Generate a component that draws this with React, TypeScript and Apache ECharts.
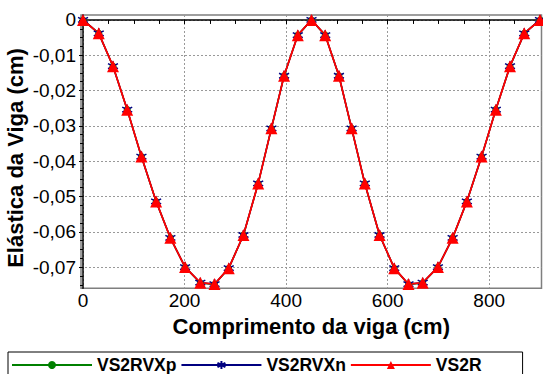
import React, { useEffect, useRef } from "react";
import * as echarts from "echarts";

// Beam position (cm)
const xPositions = [
  0, 31, 59, 87, 115, 144, 172, 201, 231, 259, 287, 316, 345, 371, 396, 423, 450,
  477, 504, 529, 555, 584, 613, 641, 669, 699, 728, 756, 785, 813, 841, 869, 900,
];
// Deflection (cm)
const vs2rvxp = [
  0, -0.0038, -0.0131, -0.0254, -0.0387, -0.0514, -0.0617, -0.07, -0.0745, -0.0749, -0.0703,
  -0.0609, -0.0463, -0.0307, -0.0158, -0.0043, 0, -0.0043, -0.0158, -0.0307, -0.0463, -0.0609,
  -0.0703, -0.0749, -0.0745, -0.07, -0.0617, -0.0514, -0.0387, -0.0254, -0.0131, -0.0038, 0,
];
const vs2rvxn = [
  0, -0.0038, -0.0131, -0.0254, -0.0387, -0.0514, -0.0617, -0.07, -0.0744, -0.0748, -0.0703,
  -0.0609, -0.0463, -0.0307, -0.0158, -0.0043, 0, -0.0043, -0.0158, -0.0307, -0.0463, -0.0609,
  -0.0703, -0.0748, -0.0744, -0.07, -0.0617, -0.0514, -0.0387, -0.0254, -0.0131, -0.0038, 0,
];
const vs2r = [
  0, -0.0038, -0.0131, -0.0254, -0.0387, -0.0514, -0.0617, -0.07, -0.0744, -0.0748, -0.0703,
  -0.0609, -0.0463, -0.0307, -0.0158, -0.0043, 0, -0.0043, -0.0158, -0.0307, -0.0463, -0.0609,
  -0.0703, -0.0748, -0.0744, -0.07, -0.0617, -0.0514, -0.0387, -0.0254, -0.0131, -0.0038, 0,
];
const seriesNames = ["VS2RVXp", "VS2RVXn", "VS2R"];
const xTickLabels = [0, 200, 400, 600, 800];
const xMinorTicks = [0, 50, 100, 150, 200, 250, 300, 350, 400, 450, 500, 550, 600, 650, 700, 750, 800, 850, 900];
const yTickLabels = [0, -0.01, -0.02, -0.03, -0.04, -0.05, -0.06, -0.07];
const yMinorTicks = [
  0, -0.0025, -0.005, -0.0075, -0.01, -0.0125, -0.015, -0.0175, -0.02, -0.0225, -0.025, -0.0275,
  -0.03, -0.0325, -0.035, -0.0375, -0.04, -0.0425, -0.045, -0.0475, -0.05, -0.0525, -0.055,
  -0.0575, -0.06, -0.0625, -0.065, -0.0675, -0.07, -0.0725, -0.075,
];
const xTitle = "Comprimento da viga (cm)";
const yTitle = "Elástica da Viga (cm)";

const FONT = "Liberation Sans, Arial, Helvetica, sans-serif";
const X_MIN = -4;
const X_MAX = 903;
const Y_MIN = -0.076;
const Y_MAX = 0.0014;

const asterisk = "path://M5,0L5,10M0.67,2.5L9.33,7.5M0.67,7.5L9.33,2.5";

export default function App() {
  const ref = useRef<HTMLDivElement>(null);
  useEffect(() => {
    document.body.style.margin = "0";
    if (!ref.current) return;
    const chart = echarts.init(ref.current, null, { renderer: "svg" });
    const pair = (ys: number[]) => xPositions.map((x, i) => [x, ys[i]]);
    const fmtY = (v: number) => (Math.abs(v) < 1e-9 ? "0" : v.toFixed(2).replace(".", ","));
    chart.setOption({
      animation: false,
      backgroundColor: "#ffffff",
      grid: {
        left: 81,
        top: 15,
        right: 1.5,
        bottom: 85.7,
        show: true,
        borderColor: "#7f7f7f",
        borderWidth: 1.5,
        containLabel: false,
        outerBoundsMode: "none",
      },
      legend: {
        data: seriesNames,
        left: 8,
        top: 352,
        orient: "horizontal",
        padding: [4, 41, 6, 3],
        itemWidth: 80,
        itemHeight: 10,
        itemGap: 4,
        borderColor: "#000000",
        borderWidth: 1,
        textStyle: { fontFamily: FONT, fontWeight: "bold", fontSize: 17.5, color: "#000" },
      },
      xAxis: [
        {
          type: "value",
          min: X_MIN,
          max: X_MAX,
          name: xTitle,
          nameLocation: "middle",
          nameGap: 26,
          nameTextStyle: { fontFamily: FONT, fontWeight: "bold", fontSize: 22, color: "#000" },
          axisLine: { show: true, lineStyle: { color: "#000", width: 1.5 } },
          axisTick: { show: true, customValues: xTickLabels, length: 4, lineStyle: { color: "#000" } },
          axisLabel: {
            customValues: xTickLabels,
            fontFamily: FONT,
            fontSize: 19,
            color: "#000",
            margin: 3,
          },
          splitLine: { show: true, lineStyle: { color: "#999", type: [2, 2], width: 1 } },
        },
        {
          type: "value",
          min: X_MIN,
          max: X_MAX,
          position: "bottom",
          axisLine: { show: false },
          axisLabel: { show: false },
          splitLine: { show: false },
          axisTick: { show: true, customValues: xMinorTicks, length: 4, lineStyle: { color: "#000" } },
        },
      ],
      yAxis: [
        {
          type: "value",
          min: Y_MIN,
          max: Y_MAX,
          axisLine: { show: true, lineStyle: { color: "#000", width: 1.5 } },
          axisTick: { show: true, customValues: yTickLabels, length: 4, lineStyle: { color: "#000" } },
          axisLabel: {
            customValues: yTickLabels,
            formatter: fmtY,
            fontFamily: FONT,
            fontSize: 19,
            color: "#000",
            margin: 5,
          },
          splitLine: { show: true, lineStyle: { color: "#999", type: [2, 2], width: 1 } },
        },
        {
          type: "value",
          min: Y_MIN,
          max: Y_MAX,
          position: "left",
          axisLine: { show: false },
          axisLabel: { show: false },
          splitLine: { show: false },
          axisTick: { show: true, customValues: yMinorTicks, length: 3, lineStyle: { color: "#000" } },
        },
      ],
      graphic: [
        {
          type: "text",
          x: 15.5,
          y: 158,
          rotation: Math.PI / 2,
          style: {
            text: yTitle,
            fontFamily: FONT,
            fontWeight: "bold",
            fontSize: 22,
            fill: "#000",
            align: "center",
            verticalAlign: "middle",
          },
        },
      ],
      series: [
        {
          name: seriesNames[0],
          type: "line",
          data: pair(vs2rvxp),
          symbol: "circle",
          symbolSize: 7,
          lineStyle: { color: "#008000", width: 1.5 },
          itemStyle: { color: "#008000" },
        },
        {
          name: seriesNames[1],
          type: "line",
          data: pair(vs2rvxn),
          symbol: asterisk,
          symbolSize: 10,
          lineStyle: { color: "#000080", width: 1.5 },
          itemStyle: { color: "#000080", borderColor: "#000080", borderWidth: 1.5 },
        },
        {
          name: seriesNames[2],
          type: "line",
          data: pair(vs2r),
          symbol: "triangle",
          symbolSize: 12,
          lineStyle: { color: "#ff0000", width: 1.8 },
          itemStyle: { color: "#ff0000" },
        },
      ],
    });
    return () => chart.dispose();
  }, []);
  return <div ref={ref} style={{ width: 543, height: 374 }} />;
}
